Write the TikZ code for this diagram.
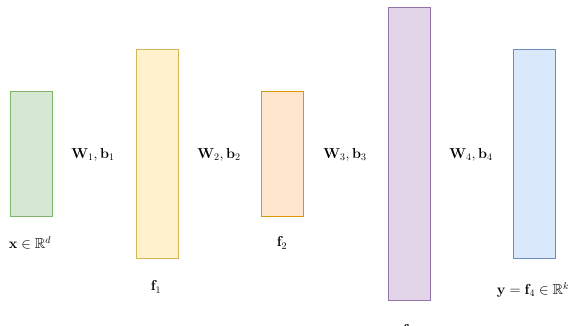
\documentclass[tikz,border=0pt]{standalone}
\usepackage{amsmath,amssymb}
\definecolor{gfill}{HTML}{D5E8D4}\definecolor{gline}{HTML}{82B366}
\definecolor{yfill}{HTML}{FFF2CC}\definecolor{yline}{HTML}{D6B656}
\definecolor{ofill}{HTML}{FFE6CC}\definecolor{oline}{HTML}{D79B00}
\definecolor{pfill}{HTML}{E1D5E7}\definecolor{pline}{HTML}{9673A6}
\definecolor{bfill}{HTML}{DAE8FC}\definecolor{bline}{HTML}{6C8EBF}
\begin{document}
\begin{tikzpicture}[x=1pt,y=-1pt,
  layer/.style={draw, line width=0.8pt, inner sep=0pt, minimum width=42pt},
  lbl/.style={inner sep=0pt, font=\fontsize{14.5}{17}\selectfont}]
\useasboundingbox (0,0) rectangle (572,326);
\node[layer, fill=gfill, draw=gline, minimum height=125pt] (l0) at (31,153.5) {};
\node[layer, fill=yfill, draw=yline, minimum height=209pt] (l1) at (157,153.5) {};
\node[layer, fill=ofill, draw=oline, minimum height=125pt] (l2) at (282.5,153.5) {};
\node[layer, fill=pfill, draw=pline, minimum height=293pt] (l3) at (409,153.5) {};
\node[layer, fill=bfill, draw=bline, minimum height=209pt] (l4) at (534,153.5) {};
\node[lbl] (w1) at (93,155) {$\mathbf{W}_1,\mathbf{b}_1$};
\node[lbl] (w2) at (219,155) {$\mathbf{W}_2,\mathbf{b}_2$};
\node[lbl] (w3) at (345,155) {$\mathbf{W}_3,\mathbf{b}_3$};
\node[lbl] (w4) at (471,155) {$\mathbf{W}_4,\mathbf{b}_4$};
\node[lbl] (x) at (30,243) {$\mathbf{x}\in\mathbb{R}^d$};
\node[lbl] (f1) at (156,287) {$\mathbf{f}_1$};
\node[lbl] (f2) at (282,243) {$\mathbf{f}_2$};
\node[lbl] (f3) at (408,331) {$\mathbf{f}_3$};
\node[lbl] (y) at (533,290) {$\mathbf{y}=\mathbf{f}_4\in\mathbb{R}^k$};
\end{tikzpicture}
\end{document}
